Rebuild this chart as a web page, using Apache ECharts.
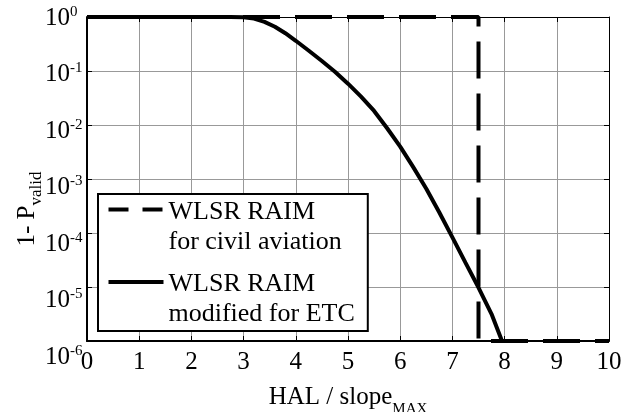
<!DOCTYPE html>
<html><head><meta charset="utf-8">
<script src="https://cdn.jsdelivr.net/npm/echarts@6/dist/echarts.min.js"></script>
<style>html,body{margin:0;padding:0;background:#fff}#c{width:642px;height:412px}</style>
</head><body><div id="c"></div>
<script>
// ---- data ----
const halCivil = [0, 7.5, 7.5, 10];
const pCivil   = [1, 1, 1e-6, 1e-6];
const halEtc = [0, 1, 2, 2.5, 2.75, 3, 3.2, 3.4, 3.6, 3.8, 4, 4.25, 4.5, 4.75, 5, 5.25, 5.5, 5.75, 6, 6.25, 6.5, 6.75, 7, 7.25, 7.5, 7.75, 7.95];
const pEtc   = [1, 1, 1, 1, 0.998, 0.9886, 0.933, 0.813, 0.661, 0.501, 0.363, 0.237, 0.153, 0.0966, 0.0582, 0.0335, 0.0182, 0.00871, 0.00398, 0.00166, 0.000661, 0.00024, 0.0000832, 0.0000282, 0.00000977, 0.00000316, 0.000001];
const seriesNames = ['WLSR RAIM\nfor civil aviation', 'WLSR RAIM\nmodified for ETC'];
const xTickMin = 0, xTickMax = 10, xTickStep = 1;
const yMin = 1e-6, yMax = 1;
const xTitle = ['HAL / slope', 'MAX'];
const yTitle = ['1- P', 'valid'];

const FONT = "'Liberation Serif', 'Times New Roman', serif";
const zip = (a, b) => a.map((v, i) => [v, b[i]]);

const chart = echarts.init(document.getElementById('c'), null, {renderer: 'canvas'});
chart.setOption({
  animation: false,
  backgroundColor: '#fff',
  grid: [
    {left: 87, right: 33, top: 17, bottom: 71, containLabel: false, outerBoundsMode: 'none'},
    {left: 87, right: 33, top: 18, bottom: 55, containLabel: false, outerBoundsMode: 'none'}
  ],
  legend: {
    show: true,
    selectedMode: false,
    orient: 'vertical',
    left: 98, top: 194,
    itemWidth: 55, itemHeight: 14, itemGap: 11.4,
    padding: [0, 13, 3.6, 8.5],
    borderColor: '#000', borderWidth: 2, backgroundColor: '#fff',
    itemStyle: {opacity: 0, borderWidth: 0},
    formatter: name => {
      const parts = name.split('\n');
      return '{a|' + parts[0] + '}\n{h|' + parts[1] + '}';
    },
    textStyle: {
      fontFamily: FONT, fontSize: 26, color: '#000',
      rich: {
        a: {fontFamily: FONT, fontSize: 26, lineHeight: 30, color: '#000', padding: [5, 0, 0, 0]},
        h: {fontFamily: FONT, fontSize: 26, lineHeight: 0.001, color: '#000', padding: [35, 0, 0, 0]}
      }
    },
    data: [
      {name: seriesNames[0], lineStyle: {type: [20, 14], width: 4, color: '#000'}},
      {name: seriesNames[1], lineStyle: {width: 4, color: '#000'}}
    ]
  },
  xAxis: [
    {
      type: 'value', gridIndex: 0, position: 'bottom',
      min: xTickMin, max: xTickMax, interval: xTickStep,
      axisLine: {onZero: false, lineStyle: {color: '#000', width: 2}},
      axisTick: {inside: true, length: 5, lineStyle: {color: '#000'}},
      splitLine: {show: true, lineStyle: {color: '#999', width: 1}},
      axisLabel: {fontFamily: FONT, fontSize: 25, lineHeight: 25, color: '#000', margin: 8.5},
      name: '{b|' + xTitle[0] + '}{s|' + xTitle[1] + '}',
      nameLocation: 'middle', nameGap: 31,
      nameTextStyle: {
        rich: {
          b: {fontFamily: FONT, fontSize: 25, lineHeight: 28, color: '#000'},
          s: {fontFamily: FONT, fontSize: 15, lineHeight: 16, color: '#000', padding: [22, 0, 0, 0]}
        }
      }
    },
    {
      type: 'value', gridIndex: 0, position: 'top',
      min: xTickMin, max: xTickMax, interval: xTickStep,
      axisLine: {onZero: false, lineStyle: {color: '#000', width: 1}},
      axisTick: {inside: true, length: 5, lineStyle: {color: '#000'}},
      splitLine: {show: false}, axisLabel: {show: false}
    },
    {type: 'value', gridIndex: 1, min: xTickMin, max: xTickMax, show: false}
  ],
  yAxis: [
    {
      type: 'log', logBase: 10, gridIndex: 0, position: 'left',
      min: yMin, max: yMax, splitNumber: 6,
      axisLine: {onZero: false, lineStyle: {color: '#000', width: 2}},
      axisTick: {inside: true, length: 5, lineStyle: {color: '#000'}},
      minorTick: {show: false},
      splitLine: {show: true, lineStyle: {color: '#999', width: 1}},
      axisLabel: {show: false},
      name: '{b|' + yTitle[0] + '}{s|' + yTitle[1] + '}{sp| }',
      nameLocation: 'middle', nameGap: 45.5,
      nameTextStyle: {
        rich: {
          b: {fontFamily: FONT, fontSize: 25, lineHeight: 28, color: '#000'},
          s: {fontFamily: FONT, fontSize: 17, lineHeight: 17, color: '#000', padding: [18, 0, 0, 0]},
          sp: {fontFamily: FONT, fontSize: 10, width: 60}
        }
      }
    },
    {
      type: 'log', logBase: 10, gridIndex: 1, position: 'left',
      min: yMin, max: yMax, splitNumber: 6,
      axisLine: {show: false}, axisTick: {show: false}, splitLine: {show: false},
      axisLabel: {
        align: 'left', margin: 42,
        formatter: v => '{b|10}{s|' + Math.round(Math.log10(v)) + '}',
        rich: {
          b: {fontFamily: FONT, fontSize: 25, lineHeight: 27, color: '#000'},
          s: {fontFamily: FONT, fontSize: 15, lineHeight: 15, color: '#000', padding: [0, 0, 12, 0]}
        }
      }
    },
    {
      type: 'log', logBase: 10, gridIndex: 0, position: 'right',
      min: yMin, max: yMax, splitNumber: 6,
      axisLine: {onZero: false, lineStyle: {color: '#000', width: 1}},
      axisTick: {inside: true, length: 5, lineStyle: {color: '#000'}},
      splitLine: {show: false}, axisLabel: {show: false}
    }
  ],
  series: [
    {
      name: seriesNames[1], type: 'line', xAxisIndex: 0, yAxisIndex: 0,
      data: zip(halEtc, pEtc), symbol: 'none', clip: true,
      lineStyle: {color: '#000', width: 4}, itemStyle: {color: '#000'}, z: 3
    },
    {
      name: seriesNames[0], type: 'line', xAxisIndex: 0, yAxisIndex: 0,
      data: zip(halCivil, pCivil), symbol: 'none', clip: false,
      lineStyle: {color: '#000', width: 4, type: [37, 15]}, itemStyle: {color: '#000'}, z: 4
    }
  ]
});
</script></body></html>
